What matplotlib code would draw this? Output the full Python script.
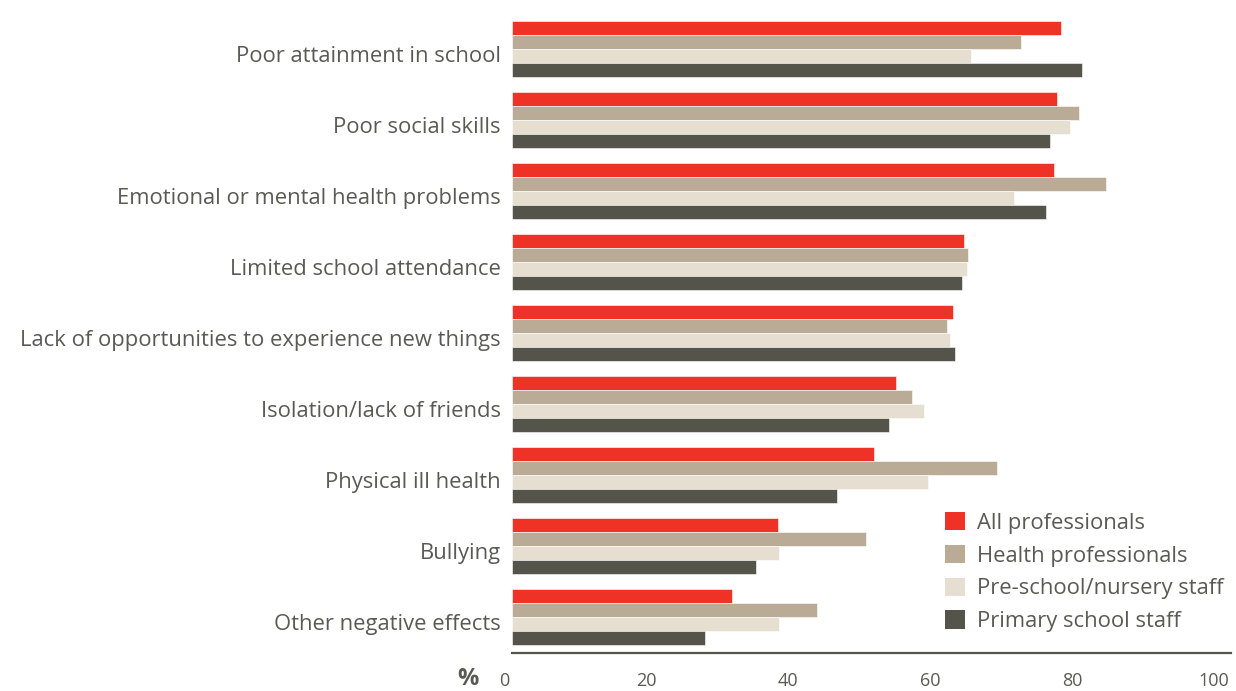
import matplotlib
matplotlib.use("Agg")
import matplotlib.pyplot as plt
import matplotlib.transforms as mtransforms
import numpy as np

categories = [
    "Poor attainment in school",
    "Poor social skills",
    "Emotional or mental health problems",
    "Limited school attendance",
    "Lack of opportunities to experience new things",
    "Isolation/lack of friends",
    "Physical ill health",
    "Bullying",
    "Other negative effects",
]
series_names = [
    "All professionals",
    "Health professionals",
    "Pre-school/nursery staff",
    "Primary school staff",
]
all_prof = [77.3, 76.8, 76.3, 63.7, 62.1, 54.1, 51.0, 37.5, 31.0]
health_prof = [71.7, 79.9, 83.7, 64.2, 61.3, 56.3, 68.3, 49.9, 43.0]
preschool = [64.6, 78.6, 70.7, 64.1, 61.7, 58.0, 58.6, 37.6, 37.6]
primary = [80.3, 75.8, 75.2, 63.4, 62.4, 53.1, 45.8, 34.4, 27.2]
x_ticks = [0, 20, 40, 60, 80, 100]

colors = ["#EE3326", "#BAAB96", "#E6DED0", "#54544A"]
text_color = "#5A5A55"

plt.rcParams["font.family"] = ["Open Sans", "DejaVu Sans"]

fig = plt.figure(figsize=(12.36, 6.91), dpi=100)
ax = fig.add_axes([512 / 1236, 1 - 653 / 691, (1231 - 512) / 1236, (653 - 15) / 691])

y = np.arange(len(categories))
bar_h = 0.19
step = 0.197
for k, (vals, name) in enumerate(zip([all_prof, health_prof, preschool, primary], series_names)):
    offs = (k - 1.5) * step
    ax.barh(y + offs, vals, height=bar_h, color=colors[k], label=name,
            edgecolor="white", linewidth=0.4)

ax.set_xlim(0, 101.3)
ax.set_ylim(8 + 36 / 71, -34 / 71)

ax.set_yticks(y + 0.07)
ax.set_yticklabels(categories, fontsize=15.8, color=text_color)
ax.tick_params(axis="y", length=0, pad=8)

ax.set_xticks(x_ticks)
ax.set_xticklabels([str(t) for t in x_ticks], fontsize=13, color=text_color)
ax.tick_params(axis="x", length=0, pad=14)
shift = mtransforms.ScaledTranslation(-8 / 100, 0, fig.dpi_scale_trans)
for lab in ax.get_xticklabels():
    lab.set_transform(lab.get_transform() + shift)

for side in ["top", "right", "left"]:
    ax.spines[side].set_visible(False)
ax.spines["bottom"].set_color("#54544A")
ax.spines["bottom"].set_linewidth(1.6)

fig.text(468 / 1236, 1 - 679 / 691, "%", fontsize=17, fontweight="bold",
         color=text_color, ha="center", va="center")

leg = ax.legend(loc="upper left", bbox_to_anchor=(945 / 1236, 1 - 512 / 691),
                bbox_transform=fig.transFigure, frameon=False, fontsize=15.8,
                handlelength=0.92, handleheight=0.92, handletextpad=0.55,
                labelspacing=0.5, borderpad=0, borderaxespad=0)
for t in leg.get_texts():
    t.set_color(text_color)
for h in leg.legend_handles:
    h.set_edgecolor("none")

fig.savefig("out.png", dpi=100)
